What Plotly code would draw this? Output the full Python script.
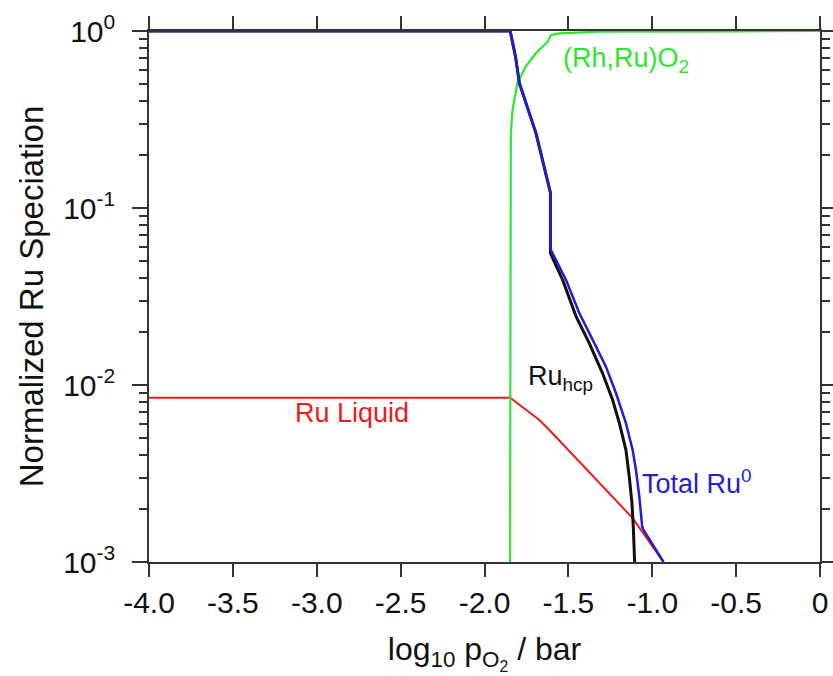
import plotly.graph_objects as go

# Data (x = log10 pO2 / bar, y = normalized speciation)
green_x = [-1.848, -1.846, -1.843, -1.833, -1.804, -1.754, -1.694, -1.623, -1.603, -1.554, -1.335, -0.5, 0.0]
green_y = [0.001, 0.1, 0.265, 0.358, 0.507, 0.629, 0.748, 0.870, 0.949, 0.970, 0.990, 0.995, 1.0]

blue_x = [-4.0, -1.847, -1.815, -1.792, -1.693, -1.607, -1.607, -1.604, -1.514, -1.435, -1.355, -1.276,
          -1.216, -1.157, -1.117, -1.097, -1.077, -1.060, -1.052, -0.933]
blue_y = [1.0, 1.0, 0.716, 0.507, 0.264, 0.122, 0.0585, 0.0579, 0.0392, 0.0255, 0.0180, 0.0127,
          0.00898, 0.00610, 0.00430, 0.00331, 0.00234, 0.00158, 0.00152, 0.001]

black_x = [-4.0, -1.847, -1.815, -1.792, -1.693, -1.607, -1.607, -1.534, -1.455, -1.375, -1.296,
           -1.236, -1.196, -1.157, -1.137, -1.121, -1.113, -1.105]
black_y = [1.0, 1.0, 0.716, 0.507, 0.264, 0.122, 0.0555, 0.0392, 0.0245, 0.0172, 0.01164,
           0.00822, 0.00608, 0.00430, 0.00303, 0.00215, 0.00158, 0.001]

red_x = [-4.0, -1.847, -1.673, -1.613, -1.117, -0.933]
red_y = [0.00848, 0.00848, 0.00634, 0.00557, 0.00177, 0.001]

x_ticks = [-4.0, -3.5, -3.0, -2.5, -2.0, -1.5, -1.0, -0.5, 0.0]
x_ticktext = ["-4.0", "-3.5", "-3.0", "-2.5", "-2.0", "-1.5", "-1.0", "-0.5", "0"]
y_ticks = [0.001, 0.01, 0.1, 1.0]
y_ticktext = ["10<sup>-3</sup>", "10<sup>-2</sup>", "10<sup>-1</sup>", "10<sup>0</sup>"]

labels_text = ["(Rh,Ru)O<sub>2</sub>", "Ru Liquid", "Ru<sub>hcp</sub>", "Total Ru<sup>0</sup>"]
labels_x = [-1.542, -3.143, -1.75, -1.071]
labels_logy = [-0.164, -2.158, -1.960, -2.548]
labels_color = ["#2ee62e", "#ee1c1c", "#111111", "#1f1fd6"]

FONT = "Liberation Sans, Arial, sans-serif"

fig = go.Figure()
fig.add_trace(go.Scatter(x=red_x, y=red_y, mode="lines", line=dict(color="#ee1c1c", width=2)))
fig.add_trace(go.Scatter(x=green_x, y=green_y, mode="lines", line=dict(color="#2ee62e", width=2.2)))
fig.add_trace(go.Scatter(x=black_x, y=black_y, mode="lines", line=dict(color="#111111", width=3)))
fig.add_trace(go.Scatter(x=blue_x, y=blue_y, mode="lines", line=dict(color="#1f1fd6", width=2.5)))

for t, x, ly, c in zip(labels_text, labels_x, labels_logy, labels_color):
    fig.add_annotation(x=x, y=ly, xref="x", yref="y", text=t, showarrow=False,
                       xanchor="left", yanchor="middle", font=dict(family=FONT, size=27, color=c))

fig.update_layout(
    width=833, height=676,
    margin=dict(l=149, r=13, t=31, b=114),
    paper_bgcolor="white", plot_bgcolor="white",
    showlegend=False,
    font=dict(family=FONT, color="#222222"),
)
fig.update_xaxes(
    range=[-4.0, 0.0], tickvals=x_ticks, ticktext=x_ticktext, automargin=False,
    ticks="outside", ticklen=13, tickwidth=1.5, tickcolor="#333333",
    showline=True, linecolor="#333333", linewidth=1.5, mirror="ticks",
    showgrid=False, zeroline=False,
    tickfont=dict(family=FONT, size=30, color="#111111"),
    title=dict(text="log<sub>10</sub> p<sub>O<sub>2</sub></sub> / bar", font=dict(family=FONT, size=32, color="#111111"), standoff=20),
)
fig.update_yaxes(
    type="log", range=[-3, 0], tickvals=y_ticks, ticktext=y_ticktext, automargin=False,
    ticks="outside", ticklen=15, tickwidth=1.5, tickcolor="#333333",
    ticklabelstandoff=11,
    minor=dict(ticks="outside", ticklen=8, tickwidth=1.5, tickcolor="#333333",
               tickvals=[m * 10 ** e for e in (-3, -2, -1) for m in range(2, 10)]),
    showline=True, linecolor="#333333", linewidth=1.5, mirror="ticks",
    showgrid=False, zeroline=False,
    tickfont=dict(family=FONT, size=30, color="#111111"),
    title=dict(text="Normalized Ru Speciation", font=dict(family=FONT, size=33, color="#111111"), standoff=10),
)

fig.write_html("out.html")
